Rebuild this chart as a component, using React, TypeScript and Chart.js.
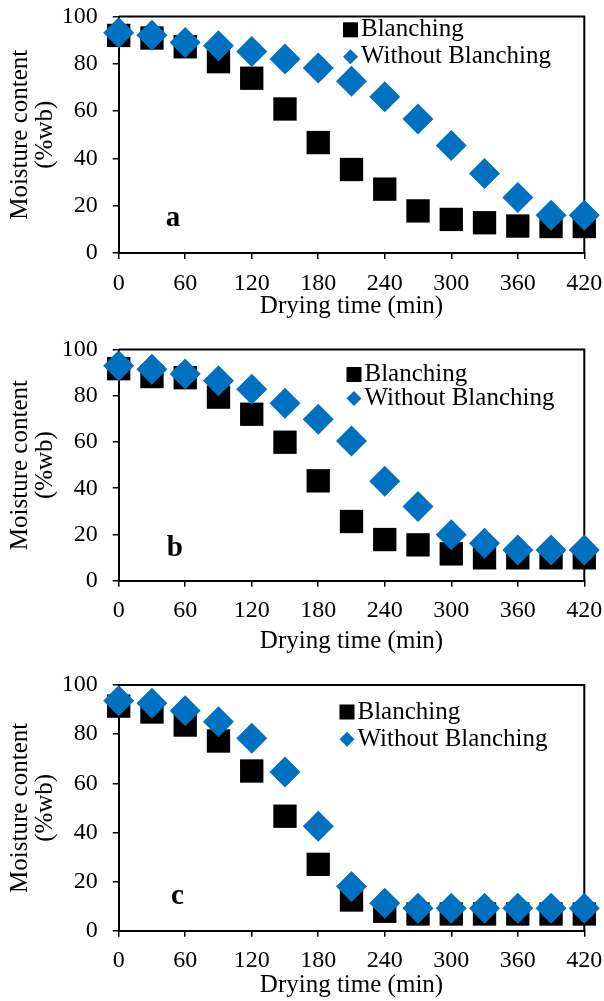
import React, { useEffect, useRef } from "react";
import { Chart, registerables } from "chart.js";

Chart.register(...registerables);

// ---------- data ----------
const TIMES = [0, 30, 60, 90, 120, 150, 180, 210, 240, 270, 300, 330, 360, 390, 420];
const SERIES_LABELS = ["Blanching", "Without Blanching"];
const X_TITLE = "Drying time (min)";
const Y_TITLE = ["Moisture content", "(%wb)"];

const A_BLANCHING = [92, 90.9, 87.2, 80.9, 73.9, 60.9, 46.7, 35.3, 27.0, 17.8, 14.2, 12.8, 11.4, 11.2, 11.2];
const A_WITHOUT = [93.1, 92.1, 89.0, 87.6, 85.2, 82.0, 78.2, 72.6, 66.1, 56.7, 45.5, 33.6, 23.5, 16.0, 16.0];

const B_BLANCHING = [91.7, 88.3, 87.8, 79.4, 72.0, 59.9, 43.2, 25.6, 17.8, 15.5, 11.6, 9.9, 9.9, 9.9, 9.9];
const B_WITHOUT = [93.0, 91.5, 89.4, 86.5, 82.8, 76.8, 69.8, 60.4, 43.0, 32.1, 19.9, 16.2, 13.3, 13.3, 13.3];

const C_BLANCHING = [91.4, 89.0, 83.7, 77.2, 65.0, 46.6, 27.0, 12.5, 7.9, 6.8, 6.8, 6.8, 6.8, 6.8, 6.8];
const C_WITHOUT = [93.6, 92.6, 89.5, 85.0, 78.3, 64.6, 42.5, 18.0, 11.2, 9.1, 9.1, 9.1, 9.1, 9.1, 9.1];

const PANEL_LETTERS = ["a", "b", "c"];

// ---------- style / layout ----------
const FONT = "'Liberation Serif', 'Times New Roman', serif";
const BLUE = "#0070C0";
const BLACK = "#000000";
const W = 604;
const PLOT_LEFT = 118.7;
const PLOT_RIGHT = 584.3;

type PanelSpec = {
  top: number;
  height: number;
  plotTop: number;
  plotBottom: number;
  xTitlePad: number;
  legendDx: number;
  legendRows: [number, number];
  letterPos: [number, number];
  blanching: number[];
  without: number[];
  letter: string;
};

const PANELS: PanelSpec[] = [
  { top: 0, height: 330, plotTop: 15.5, plotBottom: 253, xTitlePad: 8.4, legendDx: 233.8, legendRows: [13.3, 40.2], letterPos: [49, 11.4], blanching: A_BLANCHING, without: A_WITHOUT, letter: PANEL_LETTERS[0] },
  { top: 330, height: 335, plotTop: 20.5, plotBottom: 250.7, xTitlePad: 8.4, legendDx: 230.3, legendRows: [25.0, 49.0], letterPos: [50.6, 10.7], blanching: B_BLANCHING, without: B_WITHOUT, letter: PANEL_LETTERS[1] },
  { top: 665, height: 336, plotTop: 21, plotBottom: 265.7, xTitlePad: 0.4, legendDx: 237.3, legendRows: [27.0, 54.3], letterPos: [53, 10.9], blanching: C_BLANCHING, without: C_WITHOUT, letter: PANEL_LETTERS[2] },
];

function Panel({ spec }: { spec: PanelSpec }) {
  const ref = useRef<HTMLCanvasElement | null>(null);

  useEffect(() => {
    const canvas = ref.current;
    if (!canvas) return;

    const framePlugin = {
      id: "frame",
      beforeDatasetsDraw(chart: any) {
        const { ctx, chartArea } = chart;
        ctx.save();
        ctx.strokeStyle = BLACK;
        ctx.lineWidth = 2;
        ctx.beginPath();
        ctx.moveTo(chartArea.left, chartArea.top);
        ctx.lineTo(chartArea.right, chartArea.top);
        ctx.lineTo(chartArea.right, chartArea.bottom);
        ctx.stroke();
        ctx.restore();
      },
    };

    const legendPlugin = {
      id: "customLegend",
      afterDatasetsDraw(chart: any) {
        const { ctx, chartArea, scales } = chart;
        ctx.save();
        const mx = chartArea.right - spec.legendDx;
        const r0 = chartArea.top + spec.legendRows[0];
        const r1 = chartArea.top + spec.legendRows[1];
        ctx.fillStyle = BLACK;
        ctx.fillRect(mx - 7.5, r0 - 7.5, 15, 15);
        ctx.fillStyle = BLUE;
        ctx.beginPath();
        ctx.moveTo(mx - 7.5, r1);
        ctx.lineTo(mx, r1 - 7.5);
        ctx.lineTo(mx + 7.5, r1);
        ctx.lineTo(mx, r1 + 7.5);
        ctx.closePath();
        ctx.fill();
        ctx.fillStyle = BLACK;
        ctx.font = `25px ${FONT}`;
        ctx.textBaseline = "middle";
        ctx.textAlign = "left";
        ctx.fillText(SERIES_LABELS[0], mx + 10.5, r0);
        ctx.fillText(SERIES_LABELS[1], mx + 10.5, r1);
        ctx.font = `bold 29px ${FONT}`;
        ctx.textAlign = "center";
        ctx.textBaseline = "alphabetic";
        ctx.fillText(
          spec.letter,
          scales.x.getPixelForValue(spec.letterPos[0]),
          scales.y.getPixelForValue(spec.letterPos[1])
        );
        ctx.restore();
      },
    };

    const chart = new Chart(canvas, {
      type: "scatter",
      data: {
        datasets: [
          {
            label: SERIES_LABELS[0],
            data: TIMES.map((t, i) => ({ x: t, y: spec.blanching[i] })),
            pointStyle: "rect",
            pointRadius: 16.5,
            backgroundColor: BLACK,
            borderWidth: 0,
            clip: false as any,
            order: 2,
          },
          {
            label: SERIES_LABELS[1],
            data: TIMES.map((t, i) => ({ x: t, y: spec.without[i] })),
            pointStyle: "rectRot",
            pointRadius: 15.5,
            backgroundColor: BLUE,
            borderWidth: 0,
            clip: false as any,
            order: 1,
          },
        ],
      },
      options: {
        responsive: false,
        animation: false,
        devicePixelRatio: 1,
        events: [],
        layout: {
          padding: { left: 0, right: W - PLOT_RIGHT, top: spec.plotTop - 1, bottom: 0 },
        },
        plugins: {
          legend: { display: false },
          tooltip: { enabled: false },
        },
        scales: {
          x: {
            type: "linear",
            min: 0,
            max: 420,
            ticks: {
              stepSize: 60,
              color: BLACK,
              font: { family: FONT, size: 24 },
              padding: 10,
              maxRotation: 0,
            },
            grid: {
              drawOnChartArea: false,
              drawTicks: true,
              tickLength: 6,
              color: BLACK,
              lineWidth: 1.5,
            },
            border: { display: true, color: BLACK, width: 2 },
            title: {
              display: true,
              text: X_TITLE,
              color: BLACK,
              font: { family: FONT, size: 25 },
              padding: { top: 0, bottom: spec.xTitlePad },
            },
            afterFit: (s: any) => {
              s.height = spec.height - spec.plotBottom;
              s.paddingLeft = 0;
              s.paddingRight = 0;
            },
          },
          y: {
            type: "linear",
            min: 0,
            max: 100,
            ticks: {
              stepSize: 20,
              color: BLACK,
              font: { family: FONT, size: 24 },
              padding: 15,
            },
            grid: {
              drawOnChartArea: false,
              drawTicks: true,
              tickLength: 6,
              color: BLACK,
              lineWidth: 1.5,
            },
            border: { display: true, color: BLACK, width: 2 },
            title: {
              display: true,
              text: Y_TITLE,
              color: BLACK,
              font: { family: FONT, size: 25, lineHeight: 1.0 },
              padding: { top: 8, bottom: 0 },
            },
            afterFit: (s: any) => {
              s.width = PLOT_LEFT;
              s.paddingTop = 0;
              s.paddingBottom = 0;
            },
          },
        },
      },
      plugins: [framePlugin, legendPlugin],
    } as any);

    return () => chart.destroy();
  }, [spec]);

  return (
    <canvas
      ref={ref}
      width={W}
      height={spec.height}
      style={{ position: "absolute", left: 0, top: spec.top, width: W, height: spec.height, display: "block" }}
    />
  );
}

export default function App() {
  return (
    <div style={{ position: "absolute", left: 0, top: 0, width: W, height: 1001, background: "#ffffff" }}>
      {PANELS.map((p) => (
        <Panel key={p.letter} spec={p} />
      ))}
    </div>
  );
}
